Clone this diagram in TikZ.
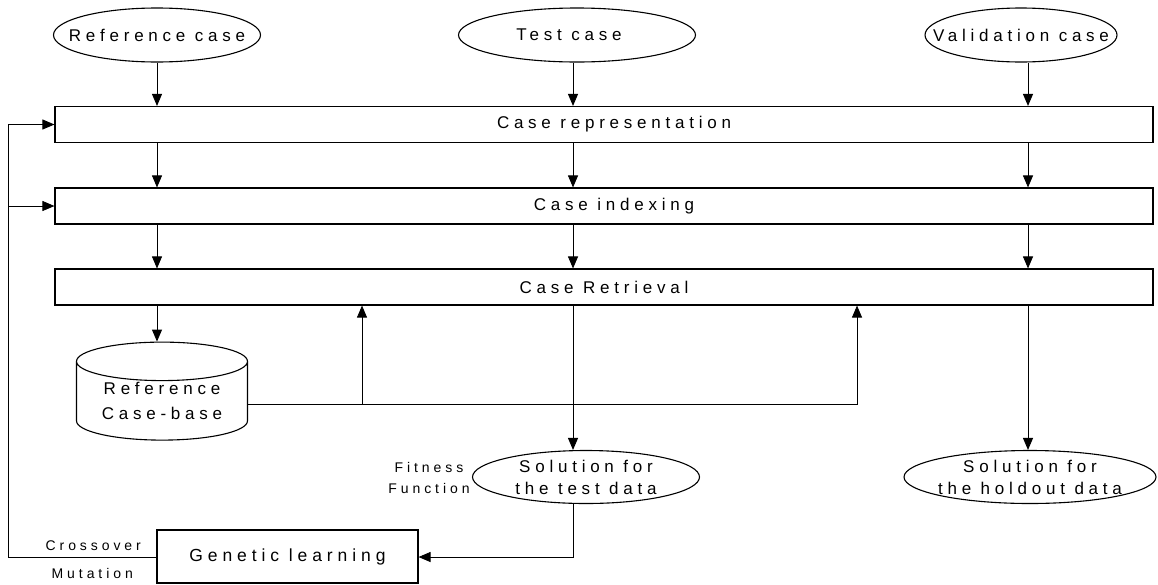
\documentclass[tikz,border=0pt]{standalone}
\usepackage{fontspec}
\setmainfont{Liberation Sans}[LetterSpace=28]
\usetikzlibrary{arrows.meta,shapes.geometric}

\tikzset{
  stage/.style={draw,line width=1.1pt,minimum width=1098pt,minimum height=36pt,inner sep=0pt},
  casenode/.style={draw,ellipse,line width=1.1pt,inner sep=0pt,minimum height=54pt},
  flow/.style={-{Triangle[length=12pt,width=10pt]},line width=0.9pt},
  note/.style={font=\fontsize{14}{21}\selectfont,align=center,inner sep=0pt},
}

\begin{document}
\begin{tikzpicture}[x=1pt,y=-1pt,font=\fontsize{17}{22}\selectfont]
\useasboundingbox (0,0) rectangle (1158,584);

% the three columns
\coordinate (colA) at (157,0);
\coordinate (colB) at (573,0);
\coordinate (colC) at (1028,0);

% input cases
\node[casenode,minimum width=207pt,label=center:Reference case] (refcase) at (157,35) {};
\node[casenode,minimum width=237pt,label={[xshift=-8pt]center:Test case}] (testcase) at (577,35) {};
\node[casenode,minimum width=192pt,label=center:Validation case] (valcase) at (1021,35) {};

% CBR stages
\node[stage,label={[xshift=10pt]center:Case representation}] (rep) at (604,124.5) {};
\node[stage,label={[xshift=10pt]center:Case indexing}] (idx) at (604,206) {};
\node[stage,label=center:Case Retrieval] (ret) at (604,287) {};

\draw[flow] (refcase.south -| colA) -- (colA |- rep.north);
\draw[flow] (testcase.south -| colB) -- (colB |- rep.north);
\draw[flow] (valcase.south -| colC) -- (colC |- rep.north);

\draw[flow] (colA |- rep.south) -- (colA |- idx.north);
\draw[flow] (colB |- rep.south) -- (colB |- idx.north);
\draw[flow] (colC |- rep.south) -- (colC |- idx.north);

\draw[flow] (colA |- idx.south) -- (colA |- ret.north);
\draw[flow] (colB |- idx.south) -- (colB |- ret.north);
\draw[flow] (colC |- idx.south) -- (colC |- ret.north);

% case base
\node[draw,cylinder,shape border rotate=90,aspect=0.32,line width=1.1pt,
      minimum width=171pt,minimum height=98pt,inner sep=0pt,align=center]
      (refbase) at (162,401) {Reference\\[3pt]Case-base};
\draw[flow] (colA |- ret.south) -- (colA |- refbase.north);

\coordinate (j1) at (362,404);
\coordinate (j2) at (857,404);
\draw[flow] (refbase.east |- j2) -- (j2) -- (j2 |- ret.south);
\draw[flow] (j1) -- (j1 |- ret.south);

% solutions
\node[casenode,minimum width=227pt,minimum height=53pt,
      label={[align=center]center:Solution for\\the test data}] (soltest) at (586,477) {};
\node[casenode,minimum width=252pt,minimum height=53pt,
      label={[align=center]center:Solution for\\the holdout data}] (solhold) at (1030,477) {};
\draw[flow] (colB |- ret.south) -- (colB |- soltest.north);
\draw[flow] (colC |- ret.south) -- (colC |- solhold.north);

\node[note] (fitness) at (429,478) {Fitness\\Function};

% genetic learning loop
\node[draw,line width=1.1pt,minimum width=261pt,minimum height=53pt,
      font=\fontsize{17.5}{21}\selectfont] (genetic) at (287.5,556.5) {Genetic learning};
\coordinate (fit) at (573,557);
\draw[flow] (colB |- soltest.south) -- (fit) -- (genetic.east |- fit);

\coordinate (back) at (8,557);
\draw[flow] (genetic.west |- back) -- (back) -- (back |- rep.west) -- (rep.west);
\draw[flow] (back |- idx.west) -- (idx.west);

\node[note,anchor=base east] (xover) at (141,550) {Crossover};
\node[note,anchor=base east] (mutate) at (133,578) {Mutation};

\end{tikzpicture}
\end{document}
